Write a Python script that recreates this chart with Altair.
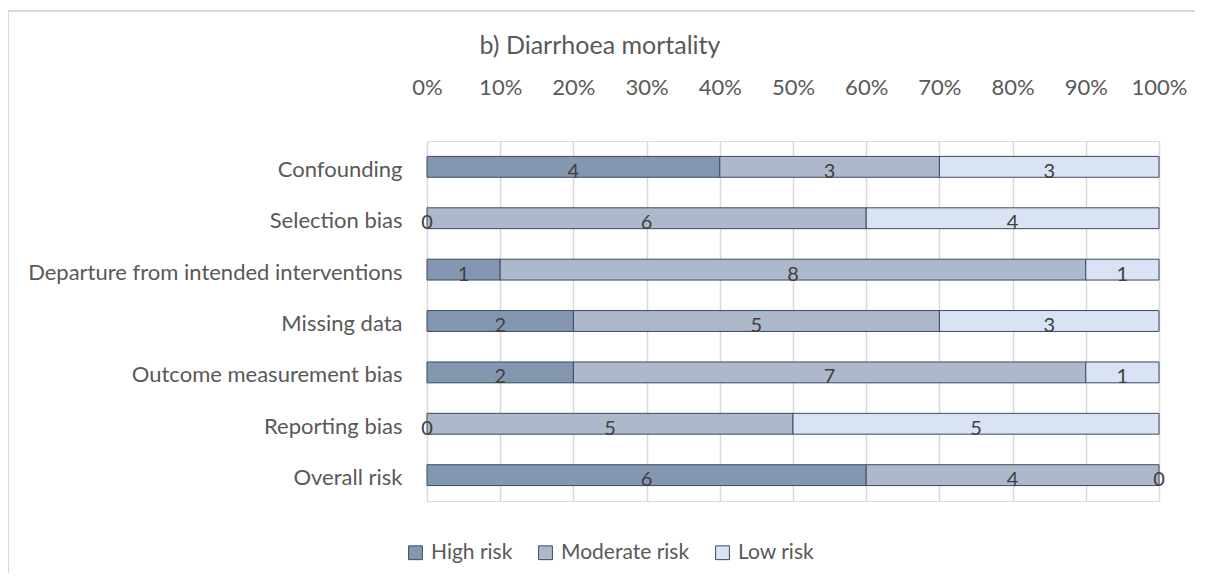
import altair as alt
import pandas as pd

title_text = "b) Diarrhoea mortality"
categories = ["Confounding", "Selection bias", "Departure from intended interventions",
              "Missing data", "Outcome measurement bias", "Reporting bias", "Overall risk"]
high = [4, 0, 1, 2, 2, 0, 6]
moderate = [3, 6, 8, 5, 7, 5, 4]
low = [3, 4, 1, 3, 1, 5, 0]
levels = ["High risk", "Moderate risk", "Low risk"]
colors = ["#8497B0", "#ADB9CA", "#DAE3F3"]
ticks = [i / 10 for i in range(11)]

rows = []
for i, c in enumerate(categories):
    for j, (lvl, vals) in enumerate(zip(levels, [high, moderate, low])):
        rows.append({"cat": c, "level": lvl, "n": vals[i], "ord": j})
df = pd.DataFrame(rows)

FONT = "Lato"
TXT = "#595959"
FS = 22

x_axis = alt.Axis(orient="top", format="%", values=ticks, labelOverlap=False,
                  labelFlush=False, domain=False, ticks=False, labelPadding=47,
                  labelFontSize=FS, labelColor=TXT, labelFont=FONT,
                  labelBaseline="alphabetic",
                  grid=True, gridColor="#D9D9D9", gridWidth=1.5)
y_axis = alt.Axis(domain=False, ticks=False, labelPadding=25, labelLimit=0,
                  labelFontSize=FS, labelColor=TXT, labelFont=FONT,
                  labelBaseline="alphabetic", labelOffset=10)
x_scale = alt.Scale(domain=[0, 1], nice=False)
y_scale = alt.Scale(paddingInner=0.594, paddingOuter=0.3)

base = alt.Chart(df)

bars = base.transform_filter("datum.n > 0").mark_bar(
    stroke="#3B4A60", strokeWidth=1).encode(
    x=alt.X("n:Q", stack="normalize", title=None, scale=x_scale, axis=x_axis),
    y=alt.Y("cat:N", sort=categories, title=None, scale=y_scale, axis=y_axis),
    color=alt.Color("level:N", sort=levels,
                    scale=alt.Scale(domain=levels, range=colors),
                    legend=alt.Legend(title=None, orient="none", direction="horizontal",
                                      legendX=-22, legendY=401, symbolType="square",
                                      symbolSize=190, symbolStrokeColor="#3B4A60",
                                      symbolStrokeWidth=1, labelFontSize=21,
                                      labelColor=TXT, labelFont=FONT, columnPadding=22,
                                      labelOffset=5)),
    order=alt.Order("ord:Q"),
)

labels = base.transform_stack(
    stack="n", groupby=["cat"], as_=["x0", "x1"], offset="normalize",
    sort=[alt.SortField("ord", order="ascending")]
).transform_calculate(xm="(datum.x0 + datum.x1) / 2").mark_text(
    fontSize=20, color="#404040", font=FONT, baseline="alphabetic", dy=11
).encode(
    x=alt.X("xm:Q", title=None, scale=x_scale, axis=x_axis),
    y=alt.Y("cat:N", sort=categories, title=None, scale=y_scale, axis=y_axis),
    text="n:Q",
)

one = pd.DataFrame({"t": [title_text]})
title = alt.Chart(one).mark_text(fontSize=25, font=FONT, color=TXT, align="center",
                                 baseline="alphabetic").encode(
    x=alt.value(173), y=alt.value(-87), text="t:N")

border = alt.Chart(one).mark_rule(color="#D9D9D9", strokeWidth=2, clip=False).encode(
    x=alt.value(-419), x2=alt.value(800), y=alt.value(-130))
border2 = alt.Chart(one).mark_rule(color="#D9D9D9", strokeWidth=2, clip=False).encode(
    x=alt.value(-419), y=alt.value(-130), y2=alt.value(440))

chart = alt.layer(border, border2, title, bars, labels).properties(
    width=732, height=360,
    autosize=alt.AutoSizeParams(type="none"),
    padding={"left": 419, "top": 133, "right": 36, "bottom": 72},
).configure_view(strokeWidth=0).configure(background="white")

chart.save("out.html", embed_options={"renderer": "svg", "actions": False})
